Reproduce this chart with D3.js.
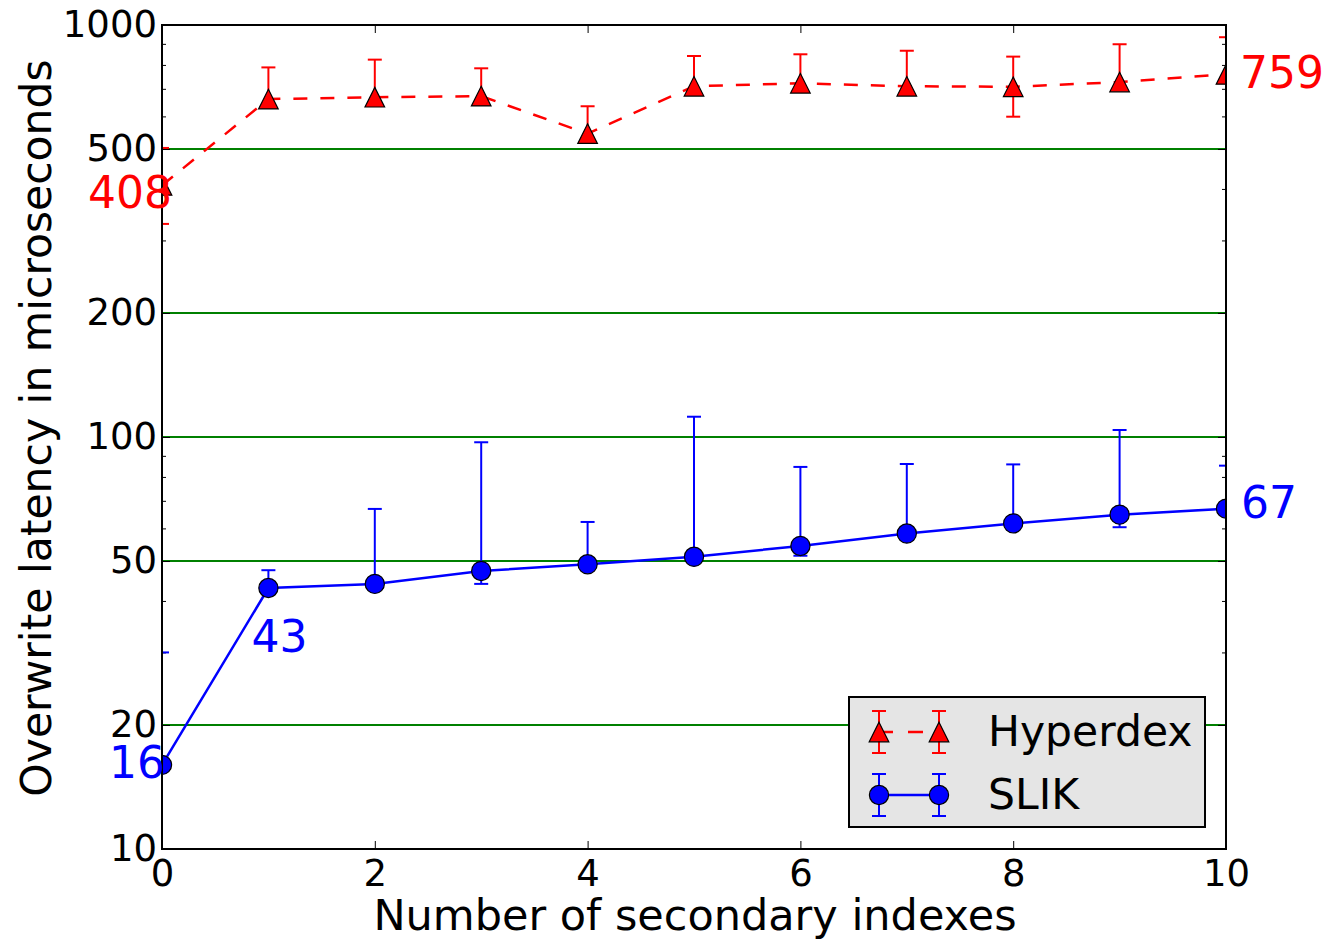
<!DOCTYPE html>
<html>
<head>
<meta charset="utf-8">
<script src="https://cdn.jsdelivr.net/npm/d3@7"></script>
<style>
  body { margin: 0; background: #fff; }
  svg { display: block; font-family: "DejaVu Sans", sans-serif; }
</style>
</head>
<body>
<svg id="chart" width="1327" height="940"></svg>
<script>
// Overwrite latency vs number of secondary indexes (log y axis)
const xs = [0, 1, 2, 3, 4, 5, 6, 7, 8, 9, 10];

// Hyperdex: value, lower and upper error bar ends
const hyperdexMean = [408, 661, 668, 672, 545, 710, 722, 710, 708, 727, 759];
const hyperdexLow  = [329, 642, 649, 653, 530, 690, 702, 690, 599, 707, 738];
const hyperdexHigh = [503, 789, 824, 785, 635, 841, 849, 866, 838, 898, 934];

// SLIK
const slikMean = [16, 43, 44, 47.3, 49.1, 51.2, 54.4, 58.3, 61.7, 64.8, 67];
const slikLow  = [15.6, 42.1, 43, 44, 48, 50.1, 51.5, 57, 60.3, 60.4, 65.5];
const slikHigh = [30, 47.5, 66.9, 97.1, 62.2, 112, 84.6, 86, 85.8, 104, 85.2];

const xTicks = [0, 2, 4, 6, 8, 10];
const yTicks = [10, 20, 50, 100, 200, 500, 1000];
const yMinor = [30, 40, 60, 70, 80, 90, 300, 400, 600, 700, 800, 900];
const gridValues = [20, 50, 100, 200, 500];

// annotated values: [series, index, text]
const callouts = [
  ["hyperdex", 0, "408"],
  ["hyperdex", 10, "759"],
  ["slik", 1, "43"],
  ["slik", 0, "16"],
  ["slik", 10, "67"]
];

// layout
const plotL = 162, plotR = 1226, plotT = 25, plotB = 849;
const svg = d3.select("#chart");

const x = d3.scaleLinear().domain([0, 10]).range([plotL, plotR]);
const y = d3.scaleLog().domain([10, 1000]).range([plotB, plotT]);

svg.append("defs").append("clipPath").attr("id", "plot-clip")
  .append("rect")
  .attr("x", plotL).attr("y", plotT)
  .attr("width", plotR - plotL).attr("height", plotB - plotT);

// green grid lines
svg.append("g")
  .selectAll("line")
  .data(gridValues)
  .join("line")
  .attr("x1", plotL).attr("x2", plotR)
  .attr("y1", d => y(d)).attr("y2", d => y(d))
  .attr("stroke", "#008000")
  .attr("stroke-width", 2);

// AXES (ticks point inward)
const fmt = d3.format("d");
const axisStyle = (g) => {
  g.select(".domain").remove();
  g.selectAll(".tick line").attr("stroke", "#000").attr("stroke-width", 1);
  g.selectAll(".tick text")
    .attr("fill", "#000")
    .style("font-size", "37px")
    .style("font-family", "DejaVu Sans, sans-serif");
};

svg.append("g")
  .attr("transform", `translate(0,${plotB})`)
  .call(d3.axisBottom(x).tickValues(xTicks).tickFormat(fmt).tickSize(-8).tickPadding(11))
  .call(axisStyle);

svg.append("g")
  .attr("transform", `translate(0,${plotT})`)
  .call(d3.axisTop(x).tickValues(xTicks).tickFormat("").tickSize(-8))
  .call(axisStyle);

svg.append("g")
  .attr("transform", `translate(${plotL},0)`)
  .call(d3.axisLeft(y).tickValues(yTicks).tickFormat(fmt).tickSize(-8).tickPadding(5))
  .call(axisStyle);

svg.append("g")
  .attr("transform", `translate(${plotL},0)`)
  .call(d3.axisLeft(y).tickValues(yMinor).tickFormat("").tickSize(-4))
  .call(axisStyle);

svg.append("g")
  .attr("transform", `translate(${plotR},0)`)
  .call(d3.axisRight(y).tickValues(yTicks).tickFormat("").tickSize(-8))
  .call(axisStyle);

svg.append("g")
  .attr("transform", `translate(${plotR},0)`)
  .call(d3.axisRight(y).tickValues(yMinor).tickFormat("").tickSize(-4))
  .call(axisStyle);

// SERIES
const series = [
  { key: "hyperdex", name: "Hyperdex", color: "#ff0000", dash: "14,13", marker: "triangle",
    mean: hyperdexMean, low: hyperdexLow, high: hyperdexHigh },
  { key: "slik", name: "SLIK", color: "#0000ff", dash: null, marker: "circle",
    mean: slikMean, low: slikLow, high: slikHigh }
];

const capHalf = 7;
const symbolFor = (m) => m === "triangle"
  ? "M0,-9.8L9.8,9.8L-9.8,9.8Z"
  : d3.symbol(d3.symbolCircle, Math.PI * 9.6 * 9.6)();

const plot = svg.append("g").attr("clip-path", "url(#plot-clip)");

series.forEach((s) => {
  const pts = xs.map((v, i) => ({ x: v, m: s.mean[i], lo: s.low[i], hi: s.high[i] }));
  const g = plot.append("g").attr("class", "series-" + s.key);

  // error bars
  const eb = g.append("g").attr("stroke", s.color).attr("stroke-width", 2);
  eb.selectAll(".bar").data(pts).join("line").attr("class", "bar")
    .attr("x1", d => x(d.x)).attr("x2", d => x(d.x))
    .attr("y1", d => y(d.lo)).attr("y2", d => y(d.hi));
  eb.selectAll(".cap-hi").data(pts).join("line").attr("class", "cap-hi")
    .attr("x1", d => x(d.x) - capHalf).attr("x2", d => x(d.x) + capHalf)
    .attr("y1", d => y(d.hi)).attr("y2", d => y(d.hi));
  eb.selectAll(".cap-lo").data(pts).join("line").attr("class", "cap-lo")
    .attr("x1", d => x(d.x) - capHalf).attr("x2", d => x(d.x) + capHalf)
    .attr("y1", d => y(d.lo)).attr("y2", d => y(d.lo));

  // connecting line
  g.append("path")
    .datum(pts)
    .attr("fill", "none")
    .attr("stroke", s.color)
    .attr("stroke-width", 2.5)
    .attr("stroke-dasharray", s.dash)
    .attr("d", d3.line().x(d => x(d.x)).y(d => y(d.m)));

  // markers
  g.selectAll(".mk").data(pts).join("path").attr("class", "mk")
    .attr("transform", d => `translate(${x(d.x)},${y(d.m)})`)
    .attr("d", symbolFor(s.marker))
    .attr("fill", s.color)
    .attr("stroke", "#000")
    .attr("stroke-width", 1.2);
});

// FRAME
svg.append("rect")
  .attr("x", plotL).attr("y", plotT)
  .attr("width", plotR - plotL).attr("height", plotB - plotT)
  .attr("fill", "none")
  .attr("stroke", "#000")
  .attr("stroke-width", 2);

// CALLOUT LABELS (drawn on top)
const calloutOffset = {
  "408": { dx: 10, dy: 23, anchor: "end" },
  "759": { dx: 14, dy: 14, anchor: "start" },
  "43":  { dx: -17, dy: 64, anchor: "start" },
  "16":  { dx: -53, dy: 13, anchor: "start" },
  "67":  { dx: 15, dy: 9, anchor: "start" }
};
svg.append("g")
  .selectAll("text")
  .data(callouts)
  .join("text")
  .each(function (c) {
    const s = series.find(d => d.key === c[0]);
    const o = calloutOffset[c[2]];
    d3.select(this)
      .attr("x", x(xs[c[1]]) + o.dx)
      .attr("y", y(s.mean[c[1]]) + o.dy)
      .attr("text-anchor", o.anchor)
      .attr("fill", s.color)
      .style("font-size", "44px")
      .text(c[2]);
  });

// AXIS TITLES
svg.append("text")
  .attr("x", 695)
  .attr("y", 930)
  .attr("text-anchor", "middle")
  .style("font-size", "43px")
  .text("Number of secondary indexes");

svg.append("text")
  .attr("transform", `translate(51,428) rotate(-90)`)
  .attr("text-anchor", "middle")
  .style("font-size", "42.5px")
  .text("Overwrite latency in microseconds");

// LEGEND
const legend = svg.append("g");
legend.append("rect")
  .attr("x", 849).attr("y", 697)
  .attr("width", 356).attr("height", 130)
  .attr("fill", "#e5e5e5")
  .attr("stroke", "#000")
  .attr("stroke-width", 2);

series.forEach((s, i) => {
  const cy = 732 + i * 63;
  const lx = [879, 939];
  const row = legend.append("g");
  row.append("line")
    .attr("x1", lx[0]).attr("x2", lx[1])
    .attr("y1", cy).attr("y2", cy)
    .attr("stroke", s.color).attr("stroke-width", 2.5)
    .attr("stroke-dasharray", s.dash ? "14,15,15,40" : null);
  lx.forEach((px) => {
    row.append("line")
      .attr("x1", px).attr("x2", px).attr("y1", cy - 21).attr("y2", cy + 21)
      .attr("stroke", s.color).attr("stroke-width", 2);
    [-21, 21].forEach((off) => {
      row.append("line")
        .attr("x1", px - capHalf).attr("x2", px + capHalf)
        .attr("y1", cy + off).attr("y2", cy + off)
        .attr("stroke", s.color).attr("stroke-width", 2);
    });
    row.append("path")
      .attr("transform", `translate(${px},${cy})`)
      .attr("d", symbolFor(s.marker))
      .attr("fill", s.color)
      .attr("stroke", "#000")
      .attr("stroke-width", 1.2);
  });
  row.append("text")
    .attr("x", 988)
    .attr("y", cy + 14)
    .style("font-size", "42.5px")
    .text(s.name);
});
</script>
</body>
</html>
